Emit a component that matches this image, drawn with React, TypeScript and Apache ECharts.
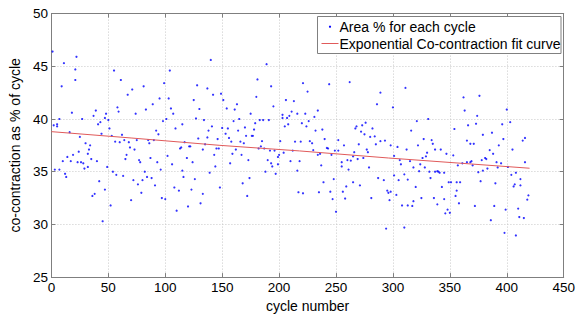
import React, { useEffect, useRef } from "react";
import * as echarts from "echarts";

// [cycle number, co-contraction area %], by x-range
const pointsCycles1to74: [number, number][] = [
  [1,46.4],[2,39.4],[3,35.2],[5,39.5],[5,39.3],[7,40.0],[7,35.2],[9,43.1],[10,36.0],[11,45.3],[12,34.8],[13,34.5],[14,36.4],[16,38.75],[17,36.0],[18,40.6],[19,36.6],[21,43.7],[21,44.7],[22,45.9],[23,35.9],[24,36.9],[25,38.3],[26,35.9],[27,40.0],[28,35.8],[29,35.3],[30,37.7],[32,35.45],[32,36.7],[33,37.1],[34,37.5],[35,36.2],[36,32.7],[37,40.3],[38,32.9],[39,40.8],[40,36.0],[41,39.5],[42,34.1],[43,39.7],[44,38.6],[45,30.3],[47,33.3],[47,40.1],[48,40.5],[49,35.45],[50,39.9],[51,39.1],[52,31.8],[53,38.4],[54,35.0],[55,44.6],[56,37.85],[57,34.7],[58,41.1],[59,40.7],[60,37.8],[61,43.7],[62,38.5],[63,34.6],[64,38.0],[65,36.2],[66,36.6],[67,42.3],[68,37.8],[69,37.3],[70,32.3],[71,42.8],[72,34.2],[73,37.1],[74,40.5]
];
const pointsCycles75to147: [number, number][] = [
  [75,38.0],[76,33.8],[77,36.1],[78,35.9],[79,33.0],[80,34.2],[81,43.1],[82,35.0],[83,40.9],[84,34.5],[85,38.0],[86,37.7],[87,36.3],[88,34.4],[89,41.4],[90,38.0],[91,33.7],[92,38.9],[93,35.9],[94,38.55],[95,41.95],[96,35.2],[97,32.5],[98,39.8],[99,43.4],[100,32.4],[101,40.0],[102,36.5],[103,41.95],[104,44.6],[105,41.0],[106,35.7],[107,40.5],[108,33.5],[109,39.1],[110,31.3],[112,33.2],[113,37.2],[114,37.3],[115,39.5],[115,35.1],[116,34.5],[117,37.8],[119,36.3],[120,31.7],[121,37.4],[122,37.4],[123,33.3],[124,35.9],[125,41.8],[126,34.3],[127,40.05],[128,43.2],[129,38.15],[130,40.95],[131,32.0],[133,37.1],[133,32.9],[134,39.9],[135,37.6],[137,42.9],[137,38.25],[138,38.9],[139,34.9],[140,45.6],[141,39.3],[142,42.3],[143,36.6],[144,35.5],[145,37.2],[146,38.1],[147,37.2]
];
const pointsCycles148to221: [number, number][] = [
  [148,33.5],[149,42.4],[150,39.15],[151,41.8],[153,38.6],[154,41.0],[155,39.1],[156,38.2],[157,35.8],[158,37.85],[159,36.7],[160,39.8],[161,40.9],[162,37.1],[163,41.4],[164,38.9],[165,40.0],[166,37.85],[167,36.6],[168,33.9],[169,37.7],[170,39.2],[171,38.4],[172,32.7],[173,36.1],[174,34.4],[175,40.5],[176,38.4],[177,38.4],[178,39.0],[179,39.6],[180,42.1],[181,43.75],[182,37.2],[183,39.9],[184,37.4],[185,37.9],[186,39.9],[187,37.2],[188,35.0],[189,45.2],[190,36.1],[191,39.9],[192,37.0],[193,35.8],[193,43.1],[194,35.5],[195,41.2],[196,37.0],[197,34.8],[199,36.4],[199,35.7],[200,36.6],[201,37.9],[203,40.4],[203,40.1],[204,36.8],[205,39.3],[206,41.8],[207,40.1],[208,39.5],[209,40.3],[210,36.0],[211,40.7],[212,37.0],[213,41.7],[214,37.85],[216,40.5],[216,35.1],[217,33.05],[218,36.0],[219,37.85],[220,39.6],[221,43.4],[221,32.95]
];
const pointsCycles223to295: [number, number][] = [
  [223,40.5],[224,39.3],[225,42.6],[226,39.8],[227,37.9],[229,37.7],[230,37.05],[231,40.2],[232,38.9],[234,36.6],[234,40.8],[235,33.05],[236,36.7],[237,35.6],[238,39.0],[239,34.0],[240,38.1],[242,37.25],[243,37.2],[244,43.3],[245,33.1],[246,36.6],[247,32.4],[248,34.3],[249,37.0],[250,31.2],[252,38.0],[252,37.0],[255,35.9],[255,35.5],[256,33.1],[257,37.5],[258,32.45],[259,33.6],[260,36.1],[261,35.2],[262,43.5],[263,36.05],[265,36.45],[265,34.0],[266,36.85],[267,39.1],[268,39.3],[269,36.2],[270,37.6],[271,33.7],[272,38.8],[273,39.4],[274,36.3],[275,38.55],[276,39.65],[277,37.1],[278,36.85],[279,35.4],[280,38.3],[281,32.5],[282,39.1],[284,38.35],[285,37.6],[286,41.4],[287,34.4],[289,42.5],[289,37.9],[292,34.2],[293,37.95],[294,29.6],[295,33.2]
];
const pointsCycles296to369: [number, number][] = [
  [296,33.0],[297,32.3],[298,33.1],[298,37.5],[300,41.1],[301,36.5],[301,34.65],[303,32.8],[304,37.35],[305,34.2],[306,36.1],[307,35.7],[308,31.8],[310,34.75],[310,29.7],[311,42.95],[312,37.1],[313,31.8],[313,34.25],[315,36.0],[316,38.9],[317,31.75],[318,32.2],[318,35.4],[320,33.55],[321,39.8],[322,37.5],[323,35.05],[324,35.7],[325,32.5],[326,36.3],[327,38.1],[328,35.4],[329,36.45],[330,36.8],[331,40.0],[332,35.0],[333,34.4],[334,38.0],[335,37.65],[336,32.5],[337,37.1],[337,35.0],[339,35.05],[339,31.9],[340,35.0],[341,34.9],[342,37.1],[343,33.55],[345,32.4],[345,34.9],[346,31.05],[347,36.7],[348,31.4],[349,34.0],[350,31.1],[351,34.0],[353,36.55],[354,39.05],[355,32.7],[356,34.0],[356,33.2],[357,35.6],[358,32.0],[359,34.0],[361,35.8],[362,42.05],[363,40.8],[365,35.9],[365,37.95],[366,39.4],[368,37.65],[369,36.0]
];
const pointsCycles368to419: [number, number][] = [
  [368,35.9],[370,35.6],[371,37.65],[372,31.75],[373,39.55],[374,40.3],[375,34.95],[376,42.2],[377,34.1],[378,36.1],[379,38.5],[379,35.1],[381,36.3],[382,36.2],[383,35.3],[385,37.05],[386,30.4],[387,38.7],[388,36.7],[389,31.75],[390,33.9],[391,35.9],[392,35.4],[393,37.5],[395,35.8],[396,39.5],[397,38.1],[398,29.2],[399,31.4],[400,40.9],[401,35.45],[403,39.7],[404,34.7],[405,37.1],[406,33.6],[407,33.8],[408,34.9],[408,28.95],[410,31.5],[411,30.7],[412,33.7],[412,34.3],[414,37.95],[415,30.6],[416,35.9],[416,38.2],[418,32.35],[419,32.75]
];

// Exponential fit curve
const fitCycles = [0, 70, 148, 218, 296, 360, 420];
const fitValues = [38.8, 38.2, 37.5, 36.97, 36.3, 35.8, 35.33];

const xTicks = { min: 0, max: 450, step: 50 };
const yTicks = { min: 25, max: 50, step: 5 };

const seriesNames = ["Area % for each cycle", "Exponential Co-contraction fit curve"];
const xTitle = "cycle number";
const yTitle = "co-contraction as % of cycle";

const FONT = "'Liberation Sans', Arial, Helvetica, sans-serif";
const AXIS_COLOR = "#7f7f7f";

export default function App() {
  const ref = useRef<HTMLDivElement>(null);

  useEffect(() => {
    if (!ref.current) return;
    const chart = echarts.init(ref.current, undefined, { renderer: "svg" });

    const scatterData = [
      ...pointsCycles1to74,
      ...pointsCycles75to147,
      ...pointsCycles148to221,
      ...pointsCycles223to295,
      ...pointsCycles296to369,
      ...pointsCycles368to419,
    ];
    const fitData = fitCycles.map((c, i) => [c, fitValues[i]]);

    const baseX = {
      type: "value" as const,
      min: xTicks.min,
      max: xTicks.max,
      interval: xTicks.step,
    };
    const baseY = {
      type: "value" as const,
      min: yTicks.min,
      max: yTicks.max,
      interval: yTicks.step,
    };
    const tickStyle = { show: true, inside: true, length: 4, lineStyle: { color: AXIS_COLOR, width: 1 } };

    chart.setOption({
      animation: false,
      backgroundColor: "#ffffff",
      textStyle: { fontFamily: FONT },
      grid: {
        left: 43.5,
        top: 13.6,
        right: 14.3,
        bottom: 36,
        show: false,
      },
      xAxis: [
        {
          ...baseX,
          position: "bottom",
          name: xTitle,
          nameLocation: "middle",
          nameGap: 17,
          nameTextStyle: { fontSize: 14, color: "#000", fontFamily: FONT },
          axisLine: { show: true, lineStyle: { color: AXIS_COLOR, width: 1 } },
          axisTick: tickStyle,
          axisLabel: { color: "#000", fontSize: 13.5, margin: 3, fontFamily: FONT },
          splitLine: { show: true, lineStyle: { color: "#c8c8c8", width: 1, type: [1, 2] } },
        },
        {
          ...baseX,
          position: "top",
          axisLine: { show: true, onZero: false, lineStyle: { color: AXIS_COLOR, width: 1 } },
          axisTick: tickStyle,
          axisLabel: { show: false },
          splitLine: { show: false },
        },
      ],
      yAxis: [
        {
          ...baseY,
          position: "left",
          name: yTitle,
          nameLocation: "middle",
          nameGap: 22,
          nameTextStyle: { fontSize: 14, color: "#000", fontFamily: FONT },
          axisLine: { show: true, lineStyle: { color: AXIS_COLOR, width: 1 } },
          axisTick: tickStyle,
          axisLabel: { color: "#000", fontSize: 13.5, margin: 3.5, fontFamily: FONT },
          splitLine: { show: true, lineStyle: { color: "#c8c8c8", width: 1, type: [1, 2] } },
        },
        {
          ...baseY,
          position: "right",
          axisLine: { show: true, onZero: false, lineStyle: { color: AXIS_COLOR, width: 1 } },
          axisTick: tickStyle,
          axisLabel: { show: false },
          splitLine: { show: false },
        },
      ],
      series: [
        {
          name: seriesNames[0],
          type: "scatter",
          xAxisIndex: 0,
          yAxisIndex: 0,
          data: scatterData,
          symbol: "circle",
          symbolSize: 2.2,
          itemStyle: { color: "#0000ff" },
          silent: true,
        },
        {
          name: seriesNames[1],
          type: "line",
          xAxisIndex: 0,
          yAxisIndex: 0,
          data: fitData,
          showSymbol: false,
          smooth: false,
          lineStyle: { color: "#e05a5a", width: 1 },
          silent: true,
        },
      ],
      graphic: [
        {
          type: "rect",
          shape: { x: 317.5, y: 16.5, width: 243.5, height: 37 },
          style: { fill: "#ffffff", stroke: "#808080", lineWidth: 1 },
          z: 100,
        },
        {
          type: "circle",
          shape: { cx: 330, cy: 26.7, r: 1.1 },
          style: { fill: "#0000ff" },
          z: 101,
        },
        {
          type: "line",
          shape: { x1: 321.5, y1: 43.5, x2: 338.5, y2: 43.5 },
          style: { stroke: "#e05a5a", lineWidth: 1 },
          z: 101,
        },
        {
          type: "text",
          x: 339.5,
          y: 26.7,
          style: {
            text: seriesNames[0],
            fill: "#000",
            font: `14px ${FONT}`,
            textAlign: "left",
            textVerticalAlign: "middle",
          },
          z: 101,
        },
        {
          type: "text",
          x: 339.5,
          y: 43.6,
          style: {
            text: seriesNames[1],
            fill: "#000",
            font: `14px ${FONT}`,
            textAlign: "left",
            textVerticalAlign: "middle",
          },
          z: 101,
        },
      ],
    });

    return () => chart.dispose();
  }, []);

  return (
    <div
      ref={ref}
      style={{ position: "absolute", left: 0, top: 0, width: 578, height: 318, background: "#fff" }}
    />
  );
}
